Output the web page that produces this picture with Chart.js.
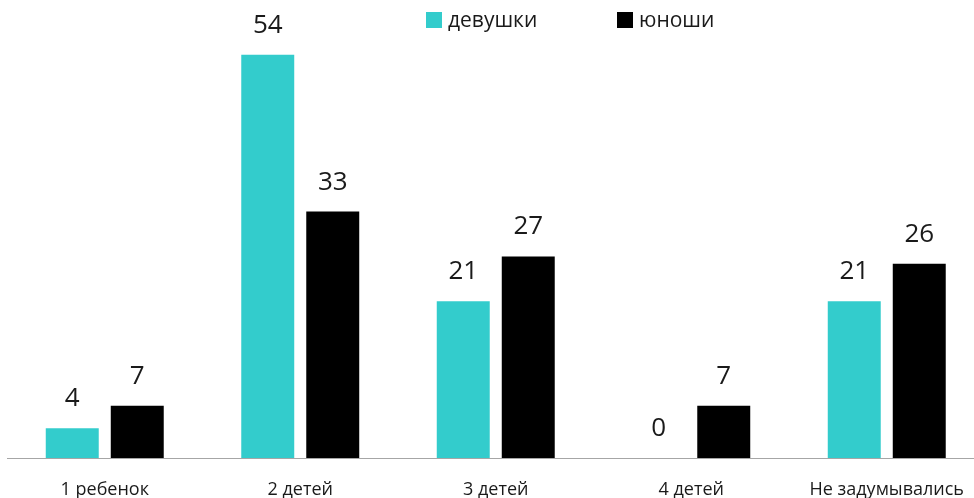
<!DOCTYPE html>
<html>
<head>
<meta charset="utf-8">
<script src="https://cdn.jsdelivr.net/npm/chart.js@4.4.1/dist/chart.umd.min.js"></script>
<style>
  html, body { margin: 0; padding: 0; background: #fff; overflow: hidden; }
  #wrap { width: 992px; height: 498px; }
</style>
</head>
<body>
<div id="wrap"><canvas id="chart" width="992" height="498"></canvas></div>
<script>
const CATEGORIES = ["1 ребенок", "2 детей", "3 детей", "4 детей", "Не задумывались"];
const SERIES_NAMES = ["девушки", "юноши"];
const GIRLS = [4, 54, 21, 0, 21];
const BOYS = [7, 33, 27, 7, 26];
const COLORS = ["#33CCCC", "#000000"];
const FONT = "'Open Sans', 'DejaVu Sans', sans-serif";

// value labels above each bar, placed from the bar elements
const valueLabels = {
  id: "valueLabels",
  afterDatasetsDraw(chart) {
    const ctx = chart.ctx;
    ctx.save();
    ctx.font = `26px ${FONT}`;
    ctx.fillStyle = "#1a1a1a";
    ctx.textAlign = "center";
    ctx.textBaseline = "alphabetic";
    chart.data.datasets.forEach((ds, i) => {
      chart.getDatasetMeta(i).data.forEach((bar, j) => {
        ctx.fillText(String(ds.data[j]), bar.x, bar.y - 22);
      });
    });
    ctx.restore();
  },
};

// legend drawn at the top, squares + names
const topLegend = {
  id: "topLegend",
  afterDraw(chart) {
    const ctx = chart.ctx;
    const spots = [426, 617];
    ctx.save();
    ctx.font = `21px ${FONT}`;
    ctx.textBaseline = "middle";
    ctx.textAlign = "left";
    chart.data.datasets.forEach((ds, i) => {
      ctx.fillStyle = ds.backgroundColor;
      ctx.fillRect(spots[i], 12, 16, 16);
      ctx.fillStyle = "#1a1a1a";
      ctx.fillText(ds.label, spots[i] + 22, 21);
    });
    ctx.restore();
  },
};

new Chart(document.getElementById("chart"), {
  type: "bar",
  data: {
    labels: CATEGORIES,
    datasets: [
      { label: SERIES_NAMES[0], data: GIRLS, backgroundColor: COLORS[0] },
      { label: SERIES_NAMES[1], data: BOYS, backgroundColor: COLORS[1] },
    ],
  },
  options: {
    responsive: false,
    animation: false,
    devicePixelRatio: 1,
    categoryPercentage: 0.665,
    barPercentage: 0.815,
    layout: { padding: { top: 10, left: 7, right: 7.5, bottom: 0 } },
    plugins: {
      legend: { display: false },
      tooltip: { enabled: false },
    },
    scales: {
      x: {
        grid: { display: true, drawOnChartArea: false, drawTicks: false },
        border: { display: true, color: "#a6a6a6", width: 1 },
        ticks: {
          color: "#1a1a1a",
          font: { family: FONT, size: 18 },
          padding: 21,
          maxRotation: 0,
        },
        afterFit(scale) {
          scale.height = 40;
        },
      },
      y: {
        display: false,
        min: 0,
        max: 60,
      },
    },
  },
  plugins: [valueLabels, topLegend],
});
</script>
</body>
</html>
